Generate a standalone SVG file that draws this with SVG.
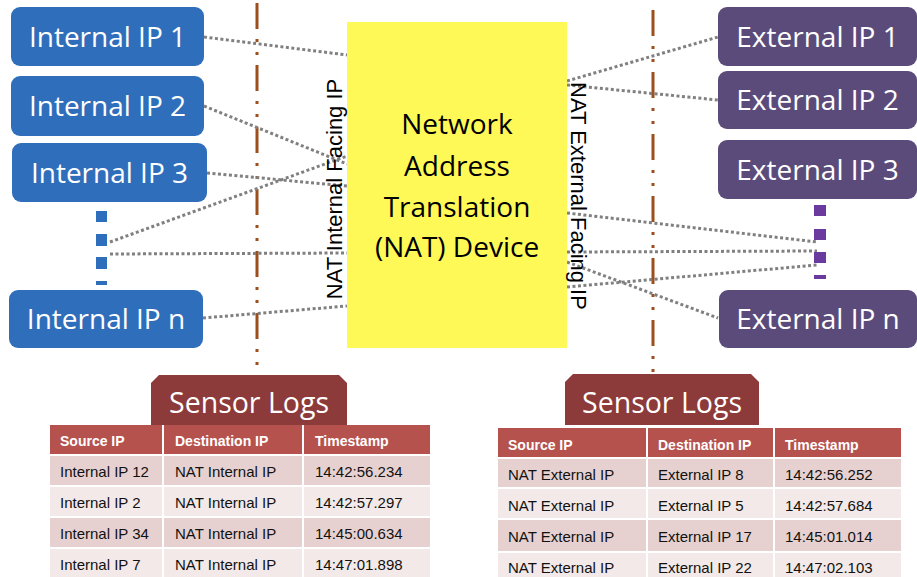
<svg xmlns="http://www.w3.org/2000/svg" width="917" height="577" viewBox="0 0 917 577">
<style>
.blue{fill:#2F6EBA}
.purple{fill:#5B4B7A}
.nt{font-family:"Open Sans","Liberation Sans",sans-serif;font-size:28px;fill:#fff;text-anchor:middle}
.yt{font-family:"Open Sans","Liberation Sans",sans-serif;font-size:28px;fill:#000;text-anchor:middle}
.vt{font-family:"Liberation Sans",Arial,sans-serif;font-size:22px;fill:#000;text-anchor:middle}
.conn{stroke:#808080;stroke-width:3;stroke-dasharray:3 2.5;fill:none}
.brown{stroke:#9B4F1C;stroke-width:3;stroke-dasharray:26 10 3 10 3 10;fill:none}
.tab{fill:#8C3B3A}
.hdr{fill:#B6524E}
.odd{fill:#E7D1D0}
.even{fill:#F3E9E8}
.ht{font-family:"Liberation Sans",Arial,sans-serif;font-size:14px;font-weight:bold;fill:#fff}
.bt{font-family:"Liberation Sans",Arial,sans-serif;font-size:15px;fill:#111}
.sl{font-family:"Open Sans","Liberation Sans",sans-serif;font-size:28.5px;fill:#fff;text-anchor:middle}
.grid{stroke:#fff;stroke-width:2}
</style>

<g id="divider-left"><line class="brown" x1="257" y1="3" x2="257" y2="375"/></g>
<g id="divider-right"><line class="brown" x1="653" y1="10" x2="653" y2="374"/></g>

<g id="connectors">
  <line class="conn" x1="204" y1="37" x2="347" y2="55"/>
  <line class="conn" x1="204" y1="106" x2="347" y2="164"/>
  <line class="conn" x1="207" y1="173" x2="347" y2="186"/>
  <line class="conn" x1="110" y1="242" x2="347" y2="156"/>
  <line class="conn" x1="110" y1="254" x2="347" y2="253"/>
  <line class="conn" x1="203" y1="318" x2="347" y2="306"/>
  <line class="conn" x1="567" y1="81" x2="718" y2="37"/>
  <line class="conn" x1="567" y1="85" x2="718" y2="100"/>
  <line class="conn" x1="567" y1="213" x2="817" y2="242"/>
  <line class="conn" x1="567" y1="252" x2="817" y2="251"/>
  <line class="conn" x1="567" y1="262" x2="718" y2="318"/>
  <line class="conn" x1="567" y1="287" x2="817" y2="265"/>
</g>

<g id="nat-device">
  <rect x="347" y="22" width="220" height="326" fill="#FFF958"/>
  <text class="yt" x="457" y="134">Network</text>
  <text class="yt" x="457" y="176">Address</text>
  <text class="yt" x="457" y="217">Translation</text>
  <text class="yt" x="457" y="257">(NAT) Device</text>
</g>

<g id="label-internal-facing">
  <text class="vt" transform="translate(342,189) rotate(-90)">NAT Internal Facing IP</text>
</g>
<g id="label-external-facing">
  <text class="vt" transform="translate(571,196) rotate(90)">NAT External Facing IP</text>
</g>

<g id="internal-ip-1"><rect class="blue" x="11" y="7" width="193" height="59" rx="9"/><text class="nt" x="107.5" y="46.5">Internal IP 1</text></g>
<g id="internal-ip-2"><rect class="blue" x="11" y="76" width="193" height="60" rx="9"/><text class="nt" x="107.5" y="116">Internal IP 2</text></g>
<g id="internal-ip-3"><rect class="blue" x="12" y="143" width="195" height="59" rx="9"/><text class="nt" x="109.5" y="182.5">Internal IP 3</text></g>
<g id="internal-ellipsis">
  <rect class="blue" x="96" y="211" width="11" height="11"/>
  <rect class="blue" x="96" y="234" width="11" height="12"/>
  <rect class="blue" x="96" y="257" width="11" height="12"/>
  <rect class="blue" x="96" y="281" width="11" height="4"/>
</g>
<g id="internal-ip-n"><rect class="blue" x="9" y="290" width="194" height="58" rx="9"/><text class="nt" x="106" y="329">Internal IP n</text></g>

<g id="external-ip-1"><rect class="purple" x="718" y="7" width="199" height="59" rx="9"/><text class="nt" x="817.5" y="46.5">External IP 1</text></g>
<g id="external-ip-2"><rect class="purple" x="718" y="71" width="199" height="58" rx="9"/><text class="nt" x="817.5" y="110">External IP 2</text></g>
<g id="external-ip-3"><rect class="purple" x="718" y="140" width="199" height="59" rx="9"/><text class="nt" x="817.5" y="179.5">External IP 3</text></g>
<g id="external-ellipsis">
  <rect fill="#6A3A9E" x="814" y="205" width="12" height="11"/>
  <rect fill="#6A3A9E" x="814" y="229" width="12" height="11"/>
  <rect fill="#6A3A9E" x="814" y="252" width="12" height="11"/>
  <rect fill="#6A3A9E" x="814" y="275" width="12" height="4"/>
</g>
<g id="external-ip-n"><rect class="purple" x="719" y="290" width="198" height="58" rx="9"/><text class="nt" x="818" y="329">External IP n</text></g>

<g id="sensor-logs-left">
  <path class="tab" d="M151,425 L151,383 L159,375 L339,375 L347,383 L347,425 Z"/>
  <text class="sl" x="249" y="413">Sensor Logs</text>
  <rect class="hdr" x="50" y="425" width="380" height="29"/>
  <rect class="odd" x="50" y="456" width="380" height="30"/>
  <rect class="even" x="50" y="486" width="380" height="31"/>
  <rect class="odd" x="50" y="517" width="380" height="31"/>
  <rect class="even" x="50" y="548" width="380" height="29"/>
  <line class="grid" x1="50" y1="455" x2="430" y2="455"/>
  <line class="grid" x1="50" y1="486" x2="430" y2="486"/>
  <line class="grid" x1="50" y1="517" x2="430" y2="517"/>
  <line class="grid" x1="50" y1="548" x2="430" y2="548"/>
  <line class="grid" x1="163" y1="425" x2="163" y2="577"/>
  <line class="grid" x1="303" y1="425" x2="303" y2="577"/>
  <text class="ht" x="60" y="446">Source IP</text>
  <text class="ht" x="175" y="446">Destination IP</text>
  <text class="ht" x="315" y="446">Timestamp</text>
  <text class="bt" x="60" y="477">Internal IP 12</text>
  <text class="bt" x="175" y="477">NAT Internal IP</text>
  <text class="bt" x="315" y="477">14:42:56.234</text>
  <text class="bt" x="60" y="508">Internal IP 2</text>
  <text class="bt" x="175" y="508">NAT Internal IP</text>
  <text class="bt" x="315" y="508">14:42:57.297</text>
  <text class="bt" x="60" y="539">Internal IP 34</text>
  <text class="bt" x="175" y="539">NAT Internal IP</text>
  <text class="bt" x="315" y="539">14:45:00.634</text>
  <text class="bt" x="60" y="570">Internal IP 7</text>
  <text class="bt" x="175" y="570">NAT Internal IP</text>
  <text class="bt" x="315" y="570">14:47:01.898</text>
</g>

<g id="sensor-logs-right">
  <path class="tab" d="M565,425 L565,382 L573,374 L751,374 L759,382 L759,425 Z"/>
  <text class="sl" x="662" y="413">Sensor Logs</text>
  <rect class="hdr" x="498" y="428" width="403" height="29"/>
  <rect class="odd" x="498" y="459" width="403" height="29"/>
  <rect class="even" x="498" y="488" width="403" height="31"/>
  <rect class="odd" x="498" y="519" width="403" height="33"/>
  <rect class="even" x="498" y="552" width="403" height="25"/>
  <line class="grid" x1="498" y1="458" x2="901" y2="458"/>
  <line class="grid" x1="498" y1="488" x2="901" y2="488"/>
  <line class="grid" x1="498" y1="519" x2="901" y2="519"/>
  <line class="grid" x1="498" y1="552" x2="901" y2="552"/>
  <line class="grid" x1="647" y1="428" x2="647" y2="577"/>
  <line class="grid" x1="774" y1="428" x2="774" y2="577"/>
  <text class="ht" x="508" y="450">Source IP</text>
  <text class="ht" x="658" y="450">Destination IP</text>
  <text class="ht" x="785" y="450">Timestamp</text>
  <text class="bt" x="508" y="480">NAT External IP</text>
  <text class="bt" x="658" y="480">External IP 8</text>
  <text class="bt" x="785" y="480">14:42:56.252</text>
  <text class="bt" x="508" y="511">NAT External IP</text>
  <text class="bt" x="658" y="511">External IP 5</text>
  <text class="bt" x="785" y="511">14:42:57.684</text>
  <text class="bt" x="508" y="542">NAT External IP</text>
  <text class="bt" x="658" y="542">External IP 17</text>
  <text class="bt" x="785" y="542">14:45:01.014</text>
  <text class="bt" x="508" y="573">NAT External IP</text>
  <text class="bt" x="658" y="573">External IP 22</text>
  <text class="bt" x="785" y="573">14:47:02.103</text>
</g>
</svg>
